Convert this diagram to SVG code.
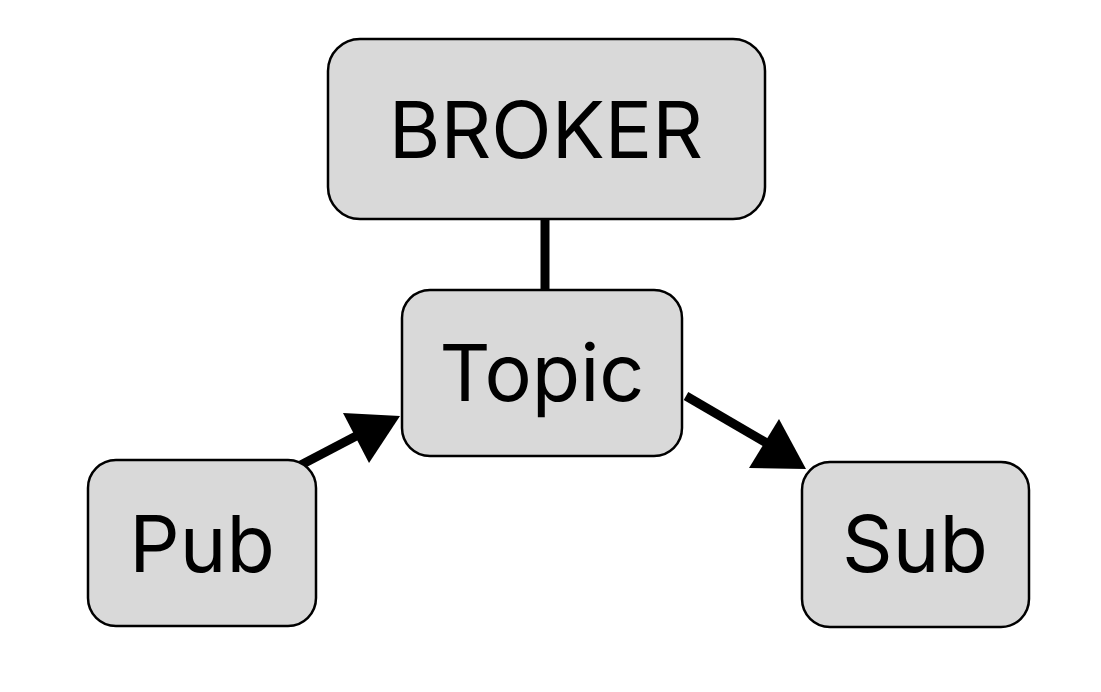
<svg xmlns="http://www.w3.org/2000/svg" width="1101" height="692" viewBox="0 0 1101 692">
<style>
.box{fill:#d9d9d9;stroke:#000;stroke-width:2.5}
.lbl{font-family:Inter,"Liberation Sans",sans-serif;font-size:79px;fill:#000;text-anchor:middle}
.edge{stroke:#000;stroke-width:9;fill:none}
</style>
<rect width="1101" height="692" fill="#fff"/>
<g id="connectors">
<line class="edge" x1="545" y1="219" x2="545" y2="290"/>
<line class="edge" x1="297" y1="467" x2="360" y2="434"/>
<polygon points="343,413 400,416 369,463" fill="#000"/>
<line class="edge" x1="686" y1="396" x2="770" y2="445"/>
<polygon points="779,419 749,468 806,469" fill="#000"/>
</g>
<g id="broker">
<rect class="box" x="328" y="39" width="437" height="180" rx="32"/>
<text class="lbl" x="546" y="158">BROKER</text>
</g>
<g id="topic">
<rect class="box" x="402" y="290" width="280" height="166" rx="28"/>
<text class="lbl" x="542" y="401">Topic</text>
</g>
<g id="pub">
<rect class="box" x="88" y="460" width="228" height="166" rx="28"/>
<text class="lbl" x="202" y="572">Pub</text>
</g>
<g id="sub">
<rect class="box" x="802" y="462" width="227" height="165" rx="28"/>
<text class="lbl" x="915" y="572">Sub</text>
</g>
</svg>
